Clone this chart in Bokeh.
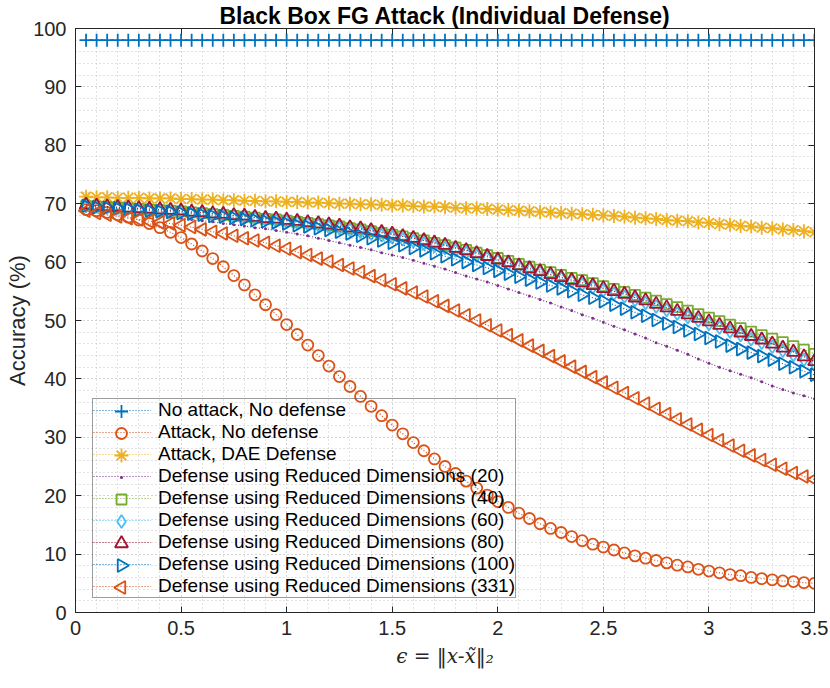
import math
from bokeh.plotting import figure
from bokeh.models import (FixedTicker, LinearAxis, Range1d, CustomJSTickFormatter,
                          Legend, LegendItem)
from bokeh.embed import file_html
from bokeh.resources import INLINE

# ---------------- data ----------------
eps = [round(0.05 * k, 2) for k in range(1, 71)]

no_attack = [98.0] * 70

attack_no_def = [
    69.0, 68.8, 68.5, 68.1, 67.7, 67.2, 66.6, 65.9, 65.1, 64.2,
    63.1, 61.9, 60.6, 59.2, 57.7, 56.1, 54.4, 52.7, 51.0, 49.3,
    47.6, 45.8, 44.0, 42.2, 40.4, 38.7, 37.0, 35.3, 33.7, 32.1,
    30.6, 29.1, 27.7, 26.3, 25.0, 23.8, 22.5, 21.3, 20.1, 19.0,
    18.0, 17.0, 16.1, 15.2, 14.4, 13.7, 13.0, 12.3, 11.7, 11.2,
    10.7, 10.2, 9.7, 9.3, 8.9, 8.5, 8.1, 7.8, 7.4, 7.1,
    6.8, 6.5, 6.3, 6.0, 5.8, 5.6, 5.4, 5.3, 5.1, 5.0,
]

dae_def = [
    71.2, 71.1, 71.1, 71.0, 71.0, 71.0, 70.9, 70.9, 70.9, 70.8,
    70.8, 70.7, 70.7, 70.6, 70.6, 70.5, 70.5, 70.4, 70.4, 70.3,
    70.3, 70.2, 70.2, 70.1, 70.0, 70.0, 69.9, 69.9, 69.8, 69.7,
    69.7, 69.6, 69.5, 69.5, 69.4, 69.3, 69.2, 69.2, 69.1, 69.0,
    68.9, 68.8, 68.7, 68.6, 68.5, 68.4, 68.3, 68.2, 68.1, 68.0,
    67.9, 67.8, 67.6, 67.5, 67.4, 67.2, 67.1, 67.0, 66.8, 66.7,
    66.5, 66.4, 66.2, 66.1, 65.9, 65.8, 65.6, 65.5, 65.3, 65.1,
]

rd20 = [
    69.3, 69.1, 68.9, 68.7, 68.5, 68.3, 68.1, 67.9, 67.7, 67.5,
    67.3, 67.1, 66.9, 66.6, 66.4, 66.2, 65.9, 65.7, 65.4, 65.1,
    64.8, 64.5, 64.1, 63.7, 63.3, 62.9, 62.5, 62.1, 61.6, 61.2,
    60.8, 60.3, 59.8, 59.3, 58.8, 58.2, 57.6, 57.1, 56.6, 56.0,
    55.4, 54.8, 54.2, 53.6, 53.0, 52.3, 51.7, 51.0, 50.4, 49.7,
    49.0, 48.4, 47.7, 47.0, 46.2, 45.6, 44.9, 44.2, 43.4, 42.7,
    42.0, 41.4, 40.8, 40.2, 39.5, 38.8, 38.2, 37.6, 37.1, 36.6,
]

rd40 = [
    69.6, 69.5, 69.4, 69.3, 69.2, 69.1, 69.0, 68.9, 68.8, 68.7,
    68.5, 68.4, 68.2, 68.1, 67.9, 67.8, 67.6, 67.4, 67.3, 67.1,
    66.9, 66.7, 66.5, 66.3, 66.1, 65.8, 65.6, 65.3, 65.0, 64.7,
    64.4, 64.1, 63.7, 63.3, 62.9, 62.5, 62.1, 61.6, 61.2, 60.7,
    60.2, 59.7, 59.2, 58.7, 58.3, 57.8, 57.3, 56.9, 56.4, 55.9,
    55.4, 54.9, 54.4, 53.9, 53.4, 52.8, 52.3, 51.7, 51.1, 50.5,
    49.9, 49.3, 48.7, 48.1, 47.5, 46.9, 46.3, 45.6, 45.0, 44.3,
]

rd60 = [
    69.6, 69.5, 69.4, 69.3, 69.2, 69.1, 69.0, 68.9, 68.8, 68.7,
    68.5, 68.4, 68.2, 68.0, 67.9, 67.7, 67.5, 67.3, 67.1, 66.9,
    66.7, 66.5, 66.3, 66.0, 65.8, 65.5, 65.2, 64.9, 64.6, 64.3,
    63.9, 63.6, 63.2, 62.8, 62.4, 62.0, 61.6, 61.1, 60.7, 60.2,
    59.7, 59.2, 58.7, 58.2, 57.7, 57.2, 56.7, 56.2, 55.7, 55.2,
    54.6, 54.1, 53.5, 53.0, 52.4, 51.8, 51.2, 50.6, 50.0, 49.4,
    48.8, 48.1, 47.5, 46.8, 46.2, 45.5, 44.8, 44.1, 43.3, 42.5,
]

rd80 = [
    69.8, 69.6, 69.5, 69.4, 69.3, 69.2, 69.1, 69.0, 68.9, 68.8,
    68.6, 68.5, 68.3, 68.2, 68.0, 67.9, 67.7, 67.5, 67.4, 67.2,
    67.0, 66.8, 66.6, 66.4, 66.2, 65.9, 65.7, 65.4, 65.1, 64.8,
    64.4, 64.1, 63.7, 63.3, 62.9, 62.4, 62.0, 61.5, 61.0, 60.4,
    59.9, 59.4, 58.9, 58.4, 57.9, 57.4, 56.9, 56.5, 56.0, 55.5,
    55.0, 54.5, 53.9, 53.4, 52.8, 52.2, 51.6, 51.0, 50.4, 49.8,
    49.2, 48.6, 47.9, 47.3, 46.7, 46.0, 45.3, 44.6, 43.8, 43.0,
]

rd100 = [
    69.6, 69.4, 69.3, 69.2, 69.1, 68.9, 68.8, 68.7, 68.6, 68.4,
    68.3, 68.1, 67.9, 67.8, 67.6, 67.4, 67.2, 67.0, 66.8, 66.6,
    66.3, 66.1, 65.8, 65.5, 65.2, 64.9, 64.5, 64.1, 63.7, 63.3,
    62.9, 62.4, 62.0, 61.5, 61.0, 60.5, 60.0, 59.5, 59.0, 58.5,
    58.0, 57.5, 57.0, 56.5, 56.0, 55.5, 55.0, 54.4, 53.9, 53.3,
    52.7, 52.0, 51.4, 50.8, 50.1, 49.5, 48.9, 48.3, 47.7, 47.0,
    46.4, 45.7, 45.1, 44.5, 43.9, 43.3, 42.6, 42.0, 41.3, 40.7,
]

rd331 = [
    68.8, 68.4, 68.1, 67.8, 67.5, 67.3, 67.0, 66.8, 66.6, 66.3,
    66.0, 65.6, 65.2, 64.9, 64.5, 64.1, 63.7, 63.3, 62.8, 62.3,
    61.7, 61.2, 60.6, 60.1, 59.5, 58.9, 58.3, 57.6, 56.9, 56.2,
    55.5, 54.8, 54.1, 53.3, 52.5, 51.7, 50.9, 50.0, 49.2, 48.3,
    47.5, 46.6, 45.7, 44.8, 43.9, 43.0, 42.1, 41.2, 40.3, 39.4,
    38.5, 37.6, 36.7, 35.8, 34.9, 34.0, 33.1, 32.2, 31.3, 30.4,
    29.5, 28.6, 27.7, 26.9, 26.1, 25.3, 24.6, 23.9, 23.3, 22.8,
]

series_labels = [
    "No attack, No defense",
    "Attack, No defense",
    "Attack, DAE Defense",
    "Defense using Reduced Dimensions (20)",
    "Defense using Reduced Dimensions (40)",
    "Defense using Reduced Dimensions (60)",
    "Defense using Reduced Dimensions (80)",
    "Defense using Reduced Dimensions (100)",
    "Defense using Reduced Dimensions (331)",
]
series_values = [no_attack, attack_no_def, dae_def, rd20, rd40, rd60, rd80, rd100, rd331]

x_ticks = [0, 0.5, 1, 1.5, 2, 2.5, 3, 3.5]
x_tick_labels = ["0", "0.5", "1", "1.5", "2", "2.5", "3", "3.5"]
y_ticks = [0, 10, 20, 30, 40, 50, 60, 70, 80, 90, 100]
y_tick_labels = ["0", "10", "20", "30", "40", "50", "60", "70", "80", "90", "100"]
x_minor = [round(0.1 * k, 1) for k in range(0, 36)]
y_minor = [2 * k for k in range(0, 51)]

title_text = "Black Box FG Attack (Individual Defense)"
y_label_text = "Accuracy (%)"
x_label_text = "\u03f5 = \u2016x-x\u0303\u2016\u2082"

# ---------------- styles ----------------
colors = ["#0072BD", "#D95319", "#EDB120", "#7E2F8E", "#77AC30",
          "#4DBEEE", "#A2142F", "#0072BD", "#D95319"]
markers = ["cross", "circle", "asterisk", "dot", "square",
           "diamond", "triangle", "triangle", "triangle"]
sizes = [13, 11, 14, 12, 10, 13, 13, 13, 13]
angles = [0, 0, 0, 0, 0, 0, 0, -math.pi / 2, math.pi / 2]

AX = "#262626"
FONT = "Liberation Sans"

W, H = 830, 688
BL, BR, BT, BB = 75, 16, 28, 76
FW, FH = W - BL - BR, H - BT - BB

p = figure(width=W, height=H, x_range=Range1d(0, 3.5), y_range=Range1d(0, 100),
           output_backend="svg", toolbar_location=None, title=title_text,
           min_border_left=BL, min_border_right=BR, min_border_top=BT, min_border_bottom=BB)
p.background_fill_color = "white"
p.border_fill_color = "white"
p.outline_line_color = AX
p.outline_line_width = 1
p.extra_x_ranges = {"px": Range1d(0, FW)}
p.extra_y_ranges = {"px": Range1d(0, FH)}

p.title.align = "center"
p.title.text_font = FONT
p.title.text_font_size = "23px"
p.title.text_font_style = "bold"
p.title.text_color = "black"
p.title.standoff = 0
p.title.offset = 0

xt = FixedTicker(ticks=x_ticks, minor_ticks=x_minor)
yt = FixedTicker(ticks=y_ticks, minor_ticks=y_minor)

for ax in p.xaxis:
    ax.ticker = xt
    ax.major_label_overrides = {t: l for t, l in zip(x_ticks, x_tick_labels)}
for ax in p.yaxis:
    ax.ticker = yt
    ax.major_label_overrides = {t: l for t, l in zip(y_ticks, y_tick_labels)}

for ax in list(p.xaxis) + list(p.yaxis):
    ax.axis_line_color = AX
    ax.major_tick_line_color = AX
    ax.major_tick_in = 6
    ax.major_tick_out = 0
    ax.minor_tick_in = 0
    ax.minor_tick_out = 0
    ax.major_label_text_font = FONT
    ax.major_label_text_font_size = "20px"
    ax.major_label_text_color = AX

p.xaxis.major_label_standoff = 8
p.yaxis.major_label_standoff = 9
p.xaxis.axis_label = x_label_text
p.xaxis.axis_label_text_font = "DejaVu Serif"
p.xaxis.axis_label_text_font_style = "italic"
p.xaxis.axis_label_text_font_size = "20px"
p.xaxis.axis_label_text_color = AX
p.xaxis.axis_label_standoff = 6
p.yaxis.axis_label = y_label_text
p.yaxis.axis_label_text_font = FONT
p.yaxis.axis_label_text_font_style = "normal"
p.yaxis.axis_label_text_font_size = "22px"
p.yaxis.axis_label_text_color = AX
p.yaxis.axis_label_standoff = 0

for side, tk in (("right", yt), ("above", xt)):
    a = LinearAxis(ticker=tk, formatter=CustomJSTickFormatter(code="return ''"),
                   major_tick_in=6, major_tick_out=0, minor_tick_in=0, minor_tick_out=0,
                   axis_line_color=AX, major_tick_line_color=AX, major_label_standoff=0,
                   major_label_text_font_size="1px")
    p.add_layout(a, side)

for g in (p.xgrid, p.ygrid):
    g.grid_line_color = "#c4c4c4"
    g.grid_line_dash = "1 3"
    g.grid_line_width = 1
    g.minor_grid_line_color = "#c4c4c4"
    g.minor_grid_line_dash = "1 3"
    g.minor_grid_line_width = 1

# legend geometry (rows of fixed height; sample markers drawn at full size)
LOC_X, LOC_Y = 17, 14
PAD, GW, ROW, STANDOFF = 0, 58, 22, 7
n_items = len(series_labels)
leg_h = n_items * ROW + 2 * PAD

items = []
for i, (lab, vals, col, mk, sz, ang) in enumerate(
        zip(series_labels, series_values, colors, markers, sizes, angles)):
    lr = p.line(eps, vals, line_color=col, line_dash="1 2", line_width=1.2)
    if mk == "dot":
        kw = dict(line_color=col, fill_color=col, line_width=1.5)
    else:
        kw = dict(line_color=col, fill_color=None, line_width=1.8)
    p.scatter(eps, vals, marker=mk, size=sz, angle=ang, **kw)
    cx = LOC_X + PAD + GW / 2
    cy = LOC_Y + leg_h - PAD - i * ROW - ROW / 2
    p.scatter([cx], [cy], x_range_name="px", y_range_name="px", marker=mk,
              size=sz, angle=ang, **kw)
    items.append(LegendItem(label=lab, renderers=[lr]))

lg = Legend(items=items, location=(LOC_X, LOC_Y))
lg.label_text_font = FONT
lg.label_text_font_size = "19px"
lg.label_text_color = "black"
lg.glyph_width = GW
lg.glyph_height = ROW
lg.label_height = ROW
lg.spacing = 0
lg.padding = PAD
lg.margin = 0
lg.label_standoff = STANDOFF
lg.border_line_color = "#3c3c3c"
lg.border_line_width = 1
lg.background_fill_alpha = 0
p.add_layout(lg, "center")

open("out.html", "w").write(file_html(p, INLINE))
